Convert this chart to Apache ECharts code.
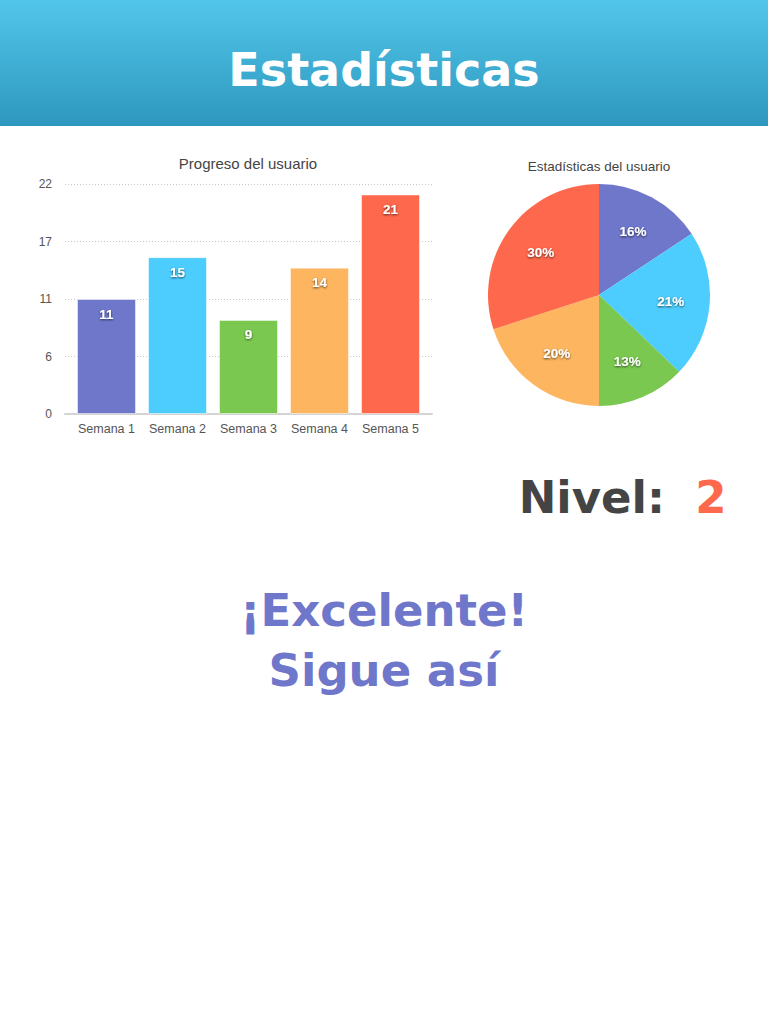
<!DOCTYPE html>
<html><head><meta charset="utf-8">
<script src="https://cdn.jsdelivr.net/npm/echarts@6/dist/echarts.min.js"></script>
<style>html,body{margin:0;padding:0;background:#fff}#c{width:768px;height:1024px}</style>
</head><body><div id="c"></div>
<script>
const categories = ['Semana 1','Semana 2','Semana 3','Semana 4','Semana 5'];
const values = [11, 15, 9, 14, 21];
const colors = ['#6f77cb','#4dcdfe','#7ac850','#fdb55f','#fe684c'];
const yTickLabels = ['0','6','11','17','22'];
const barTitle = 'Progreso del usuario';
const pieTitle = 'Estadísticas del usuario';
const headerTitle = 'Estadísticas';
const levelLabel = 'Nivel:';
const levelValue = '2';
const message = ['¡Excelente!', 'Sigue así'];

const HAND = '"DejaVu Sans", "Noto Sans", sans-serif';
const SANS = '"Helvetica Neue", "Liberation Sans", Arial, sans-serif';
const shadow = {textShadowColor:'rgba(0,0,0,0.65)', textShadowBlur:2, textShadowOffsetY:1};

const chart = echarts.init(document.getElementById('c'), null, {renderer:'svg', width:768, height:1024});
chart.setOption({
  animation:false,
  backgroundColor:'#ffffff',
  title:[
    {text:barTitle, left:243, top:151, textAlign:'center', textStyle:{fontFamily:SANS, fontSize:15, fontWeight:'normal', color:'#444'}},
    {text:pieTitle, left:594, top:154, textAlign:'center', textStyle:{fontFamily:SANS, fontSize:13.5, fontWeight:'normal', color:'#444'}}
  ],
  graphic:[
    {type:'rect', shape:{x:0,y:0,width:768,height:126}, z:-1, style:{fill:new echarts.graphic.LinearGradient(0,0,0,1,[{offset:0,color:'#52c6ea'},{offset:1,color:'#2e97be'}])}},
    {type:'text', x:384, y:70, style:{text:headerTitle, fill:'#ffffff', font:'bold 46px '+HAND, align:'center', verticalAlign:'middle'}},
    {type:'text', x:665, y:497, style:{text:levelLabel, fill:'#444444', font:'bold 45px '+HAND, align:'right', verticalAlign:'middle'}},
    {type:'text', x:711, y:497, style:{text:levelValue, fill:'#fe684c', font:'bold 45px '+HAND, align:'center', verticalAlign:'middle'}},
    {type:'text', x:384, y:610, style:{text:message[0], fill:'#6f77cb', font:'bold 45px '+HAND, align:'center', verticalAlign:'middle'}},
    {type:'text', x:384, y:670, style:{text:message[1], fill:'#6f77cb', font:'bold 45px '+HAND, align:'center', verticalAlign:'middle'}}
  ],
  grid:[
    {left:71, right:342, top:184, height:230},
    {left:65, right:336, top:184, height:230}
  ],
  xAxis:[
    {type:'category', gridIndex:0, data:categories, axisLine:{show:false}, axisTick:{show:false},
     axisLabel:{interval:0, fontFamily:SANS, fontSize:12.5, color:'#555', margin:8}},
    {type:'category', gridIndex:1, data:[''], axisLine:{lineStyle:{color:'#d4d4d4', width:2}}, axisTick:{show:false}, axisLabel:{show:false}}
  ],
  yAxis:[
    {type:'value', gridIndex:0, min:0, max:22, interval:5.5, show:false, splitLine:{show:false}},
    {type:'value', gridIndex:1, min:0, max:22, interval:5.5, axisLine:{show:false}, axisTick:{show:false},
     axisLabel:{fontFamily:SANS, fontSize:12, color:'#555', margin:13, formatter:(v,i)=>yTickLabels[i]},
     splitLine:{lineStyle:{color:'#c8c8c8', type:[1,2]}}}
  ],
  series:[
    {type:'bar', xAxisIndex:0, yAxisIndex:0, barWidth:59,
     data:values.map((v,i)=>({value:v, itemStyle:{color:colors[i], borderColor:'rgba(255,255,255,0.5)', borderWidth:1}})),
     label:{show:true, position:'insideTop', distance:8, color:'#fff', fontFamily:SANS, fontSize:13.5, fontWeight:'bold', ...shadow}},
    {type:'pie', center:[599,295], radius:111, startAngle:90, clockwise:true, percentPrecision:0,
     data:categories.map((c,i)=>({name:c, value:values[i], itemStyle:{color:colors[i]}})),
     label:{show:false}, labelLine:{show:false}, silent:true},
    {type:'pie', center:[599,295], radius:138, startAngle:90, clockwise:true, percentPrecision:0, z:5,
     data:categories.map((c,i)=>({name:c, value:values[i], itemStyle:{color:'rgba(0,0,0,0)'}})),
     label:{show:true, position:'inside', formatter:'{d}%', color:'#fff', fontFamily:SANS, fontSize:13.5, fontWeight:'bold', ...shadow},
     labelLine:{show:false}, silent:true}
  ]
});
</script></body></html>
